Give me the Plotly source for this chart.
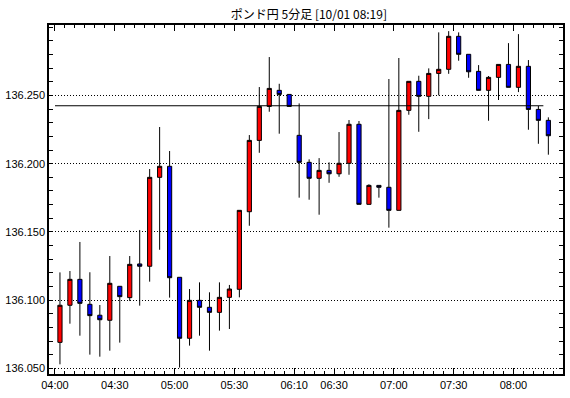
import plotly.graph_objects as go

times = ["04:00","04:05","04:10","04:15","04:20","04:25","04:30","04:35","04:40","04:45",
         "04:50","04:55","05:00","05:05","05:10","05:15","05:20","05:25","05:30","05:35",
         "05:50","05:55","06:00","06:05","06:10","06:15","06:20","06:25","06:30","06:35",
         "06:40","06:45","06:50","06:55","07:00","07:05","07:10","07:15","07:20","07:25",
         "07:30","07:35","07:40","07:45","07:50","07:55","08:00","08:05","08:10","08:15"]

opens = [136.0690,136.0962,136.1152,136.0969,136.0889,136.0852,136.1101,136.1018,136.1265,136.1248,
         136.1900,136.1981,136.1167,136.0720,136.0998,136.0947,136.0910,136.1020,136.1079,136.1648,
         136.2171,136.2420,136.2538,136.2508,136.2208,136.2010,136.1893,136.1951,136.1926,136.2003,
         136.2289,136.1702,136.1841,136.1827,136.1658,136.2391,136.2604,136.2494,136.2662,136.2692,
         136.2934,136.2802,136.2677,136.2538,136.2633,136.2728,136.2560,136.2714,136.2398,136.2318]
highs = [136.1203,136.1213,136.1426,136.1204,136.0964,136.1323,136.1101,136.1323,136.1514,136.1961,
         136.2269,136.2093,136.1167,136.1081,136.1130,136.1057,136.1130,136.1111,136.1658,136.2210,
         136.2562,136.2782,136.2586,136.2508,136.2442,136.2032,136.2041,136.2010,136.2232,136.2320,
         136.2313,136.1849,136.1841,136.2621,136.2775,136.2604,136.2645,136.2699,136.2963,136.2972,
         136.2963,136.2802,136.2723,136.2643,136.2728,136.2884,136.2950,136.2760,136.2423,136.2340]
lows = [136.0529,136.0827,136.0739,136.0600,136.0585,136.0629,136.0688,136.0993,136.0959,136.1135,
        136.1369,136.1018,136.0505,136.0666,136.0739,136.0629,136.0776,136.0788,136.1020,136.1545,
        136.2080,136.2381,136.2220,136.2420,136.1751,136.1736,136.1626,136.1860,136.1904,136.1919,
        136.1702,136.1702,136.1751,136.1531,136.1658,136.2359,136.2234,136.2327,136.2501,136.2659,
        136.2755,136.2630,136.2538,136.2315,136.2467,136.2560,136.2525,136.2249,136.2146,136.2066]
closes = [136.0962,136.1152,136.0976,136.0886,136.0856,136.1123,136.1025,136.1262,136.1248,136.1900,
          136.1981,136.1164,136.0720,136.0998,136.0947,136.0910,136.1020,136.1081,136.1658,136.2171,
          136.2420,136.2552,136.2508,136.2420,136.2010,136.1893,136.1951,136.1926,136.2003,136.2289,
          136.1702,136.1841,136.1827,136.1658,136.2391,136.2604,136.2494,136.2662,136.2692,136.2934,
          136.2802,136.2674,136.2538,136.2633,136.2728,136.2560,136.2714,136.2398,136.2318,136.2205]

tick_labels = ["04:00","04:30","05:00","05:30","06:10","06:30","07:00","07:30","08:00"]
y_ticks = [136.050, 136.100, 136.150, 136.200, 136.250]
ref_line = 136.2425
title_text = "ポンド円 5分足 [10/01 08:19]"

x = list(range(len(times)))
tick_pos = [times.index(t) - 0.5 for t in tick_labels]

fig = go.Figure()
fig.add_trace(go.Candlestick(
    x=x, open=opens, high=highs, low=lows, close=closes,
    increasing=dict(fillcolor="#FF0000", line=dict(color="#000000", width=1)),
    decreasing=dict(fillcolor="#0000FF", line=dict(color="#000000", width=1)),
    whiskerwidth=0, showlegend=False, hoverinfo="skip",
))

fig.add_shape(type="line", xref="x", yref="y", x0=-0.5, x1=len(times) - 1.5,
              y0=ref_line, y1=ref_line, line=dict(color="#000000", width=1.2))

fig.update_layout(
    width=570, height=398,
    margin=dict(l=49, r=5, t=25, b=24),
    paper_bgcolor="#FFFFFF", plot_bgcolor="#FFFFFF",
    boxgap=0.4,
    title=dict(text=title_text, x=0.542, xanchor="center", y=1 - 15/398, yanchor="middle",
               font=dict(family="Noto Sans CJK JP", size=12, color="#000000")),
    font=dict(family="Liberation Sans", size=11, color="#000000"),
    xaxis=dict(
        range=[-1.1, len(times) + 0.47], rangeslider=dict(visible=False),
        tickmode="array", tickvals=tick_pos, ticktext=tick_labels,
        ticks="inside", ticklen=6, tickcolor="#000000", tickwidth=1,
        showline=True, linecolor="#000000", linewidth=1.5, mirror="allticks",
        showgrid=False, zeroline=False,
        minor=dict(tick0=-0.5, dtick=1, ticks="inside", ticklen=3, tickcolor="#000000", tickwidth=1, showgrid=False),
        tickfont=dict(family="Liberation Sans", size=11, color="#000000"),
    ),
    yaxis=dict(
        range=[136.0458, 136.3017],
        tickmode="array", tickvals=y_ticks, ticktext=[f"{v:.3f}" for v in y_ticks],
        ticks="inside", ticklen=4, tickcolor="#000000", tickwidth=1,
        showline=True, linecolor="#000000", linewidth=1.5, mirror="allticks",
        showgrid=True, gridcolor="#000000", gridwidth=1, griddash="1px,2px", zeroline=False,
        minor=dict(tick0=136.0, dtick=0.01, ticks="inside", ticklen=4, tickcolor="#000000", tickwidth=1, showgrid=False),
        tickfont=dict(family="Liberation Sans", size=11, color="#000000"),
    ),
)

fig.write_html("out.html", config={"displayModeBar": False},
               post_script="document.body.style.margin='0';")
